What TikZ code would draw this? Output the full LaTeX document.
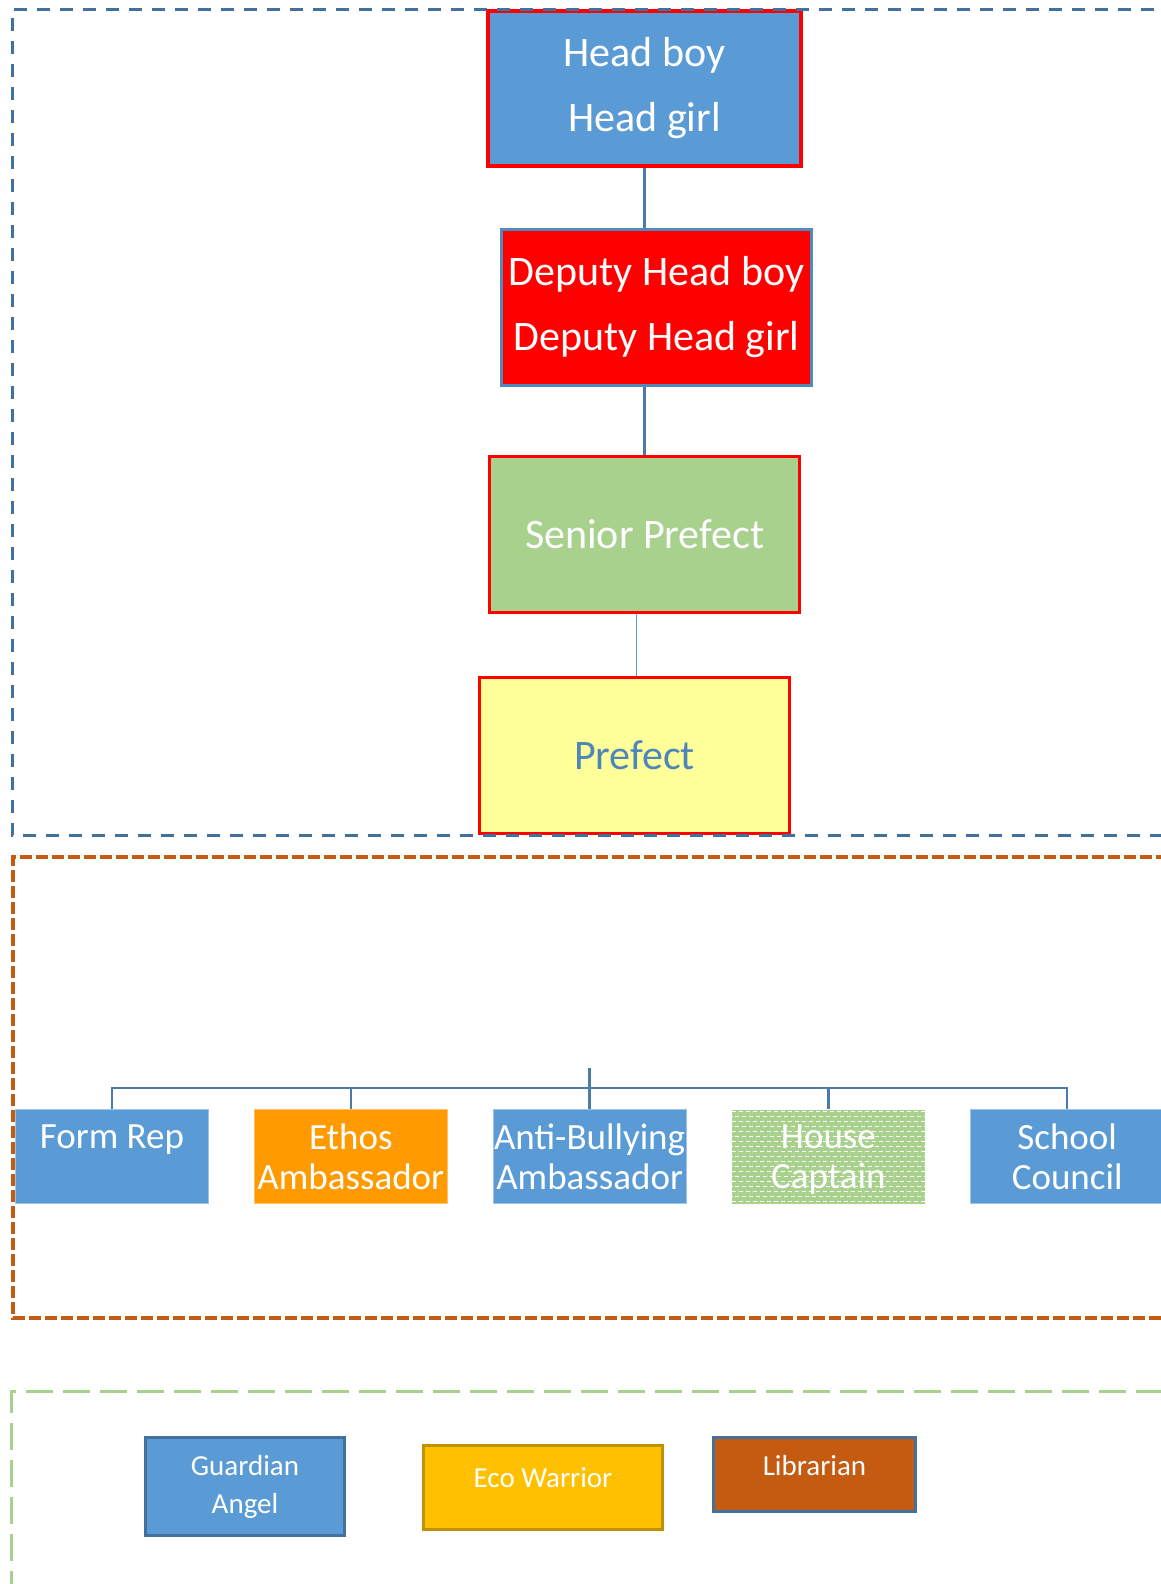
\documentclass[tikz,border=0pt]{standalone}
\usepackage{fontspec}
\setmainfont{Carlito}
\usetikzlibrary{positioning}

\definecolor{boxblue}{HTML}{5B9BD5}
\definecolor{darkblue}{HTML}{41719C}
\definecolor{linkblue}{HTML}{4A7BAA}
\definecolor{seniorgreen}{HTML}{A9D18E}
\definecolor{prefectyellow}{HTML}{FFFF99}
\definecolor{ethosorange}{HTML}{FF9A00}
\definecolor{ecogold}{HTML}{FFC000}
\definecolor{ecoedge}{HTML}{BF9000}
\definecolor{rust}{HTML}{C55A11}

\tikzset{
  rank/.style={draw=red, line width=3pt, minimum width=310pt, minimum height=156pt,
    inner sep=0pt, align=center, text=white, font=\fontsize{42}{65}\selectfont},
  role/.style={fill=boxblue, draw=boxblue!60!white, line width=0.8pt, minimum width=193pt,
    minimum height=94pt, inner sep=0pt, align=center, text=white, text depth=0pt,
    font=\fontsize{37}{40}\selectfont},
  extra/.style={line width=3pt, inner sep=0pt, align=center, text=white},
  link/.style={draw=linkblue, line width=2.5pt},
  frame/.style={line width=3pt},
}

\begin{document}
\begin{tikzpicture}[x=1pt, y=-1pt]
\useasboundingbox (0,0) rectangle (1161,1584);

% top of the ladder
\node[rank, fill=boxblue, line width=4pt, minimum width=313pt, minimum height=155pt] (head) at (644.5,88.5) {Head boy\\Head girl};
\node[rank, fill=red, draw=boxblue!60!darkblue, below=60pt of head, xshift=12pt] (deputy) {Deputy Head boy\\Deputy Head girl};
\node[rank, fill=seniorgreen, below=68pt of deputy, xshift=-12pt] (senior) {Senior Prefect};
\node[rank, fill=prefectyellow, text=boxblue!50!darkblue, below=62pt of senior, xshift=-10pt] (prefect) {Prefect};

\draw[link] (head.south) -- (head.south |- deputy.north);
\draw[link] (senior.north) -- (senior.north |- deputy.south);
\draw[draw=boxblue, line width=1.5pt] ([xshift=2pt]prefect.north) -- ([xshift=2pt]prefect.north |- senior.south);

% roles
\node[role] (formrep) at (112,1156.5) {Form Rep\\~};
\node[role, fill=ethosorange, draw=ethosorange!60!white, right=45pt of formrep] (ethos) {Ethos\\Ambassador};
\node[role, right=45pt of ethos] (anti) {Anti-Bullying\\Ambassador};
\node[role, fill=seniorgreen, draw=none, right=45pt of anti,
  path picture={
    \foreach \k in {0,...,19}{
      \pgfmathsetmacro\ph{mod(\k,2)*3.5}
      \draw[white, line width=1.3pt, dash pattern=on 4pt off 3pt, dash phase=\ph pt]
        ([yshift=-\k*5pt-2pt]path picture bounding box.north west) --
        ([yshift=-\k*5pt-2pt]path picture bounding box.north east);
    }}] (house) {House\\Captain};
\node[role, right=45pt of house] (school) {School\\Council};

\coordinate (stem) at ([yshift=41pt]anti.north);
\draw[link] (stem) -- (anti.north);
\draw[link] (formrep.north) |- ([yshift=21pt]school.north) -- (school.north);
\foreach \n in {ethos,house}
  \draw[link] (\n.north) -- ++(0pt,21pt);

% others
\node[extra, fill=boxblue, draw=darkblue, minimum width=199pt, minimum height=98pt,
  font=\fontsize{29}{38}\selectfont] (guardian) at (245,1486.5) {Guardian\\Angel};
\node[extra, fill=ecogold, draw=ecoedge, minimum width=239pt, minimum height=84pt] (eco) at (543,1487.5) {};
\node[text=white, font=\fontsize{29}{38}\selectfont] (ecolabel) at ([yshift=10pt]eco.center) {Eco Warrior};
\node[extra, fill=rust, draw=darkblue, minimum width=202pt, minimum height=74pt] (lib) at (814.5,1474.5) {};
\node[text=white, font=\fontsize{29}{38}\selectfont] (liblabel) at ([yshift=8.5pt]lib.center) {Librarian};

% dashed groups
\draw[frame, draw=darkblue, dash pattern=on 13pt off 10pt] (1200,10) -| (12,835) -- (1200,835);
\draw[frame, draw=rust, line width=3.5pt, dash pattern=on 12pt off 4pt] (1200,857) -| (13,1318) -- (1200,1318);
\draw[frame, draw=seniorgreen, dash pattern=on 27pt off 10pt] (1200,1391) -| (11,1600);
\end{tikzpicture}
\end{document}
